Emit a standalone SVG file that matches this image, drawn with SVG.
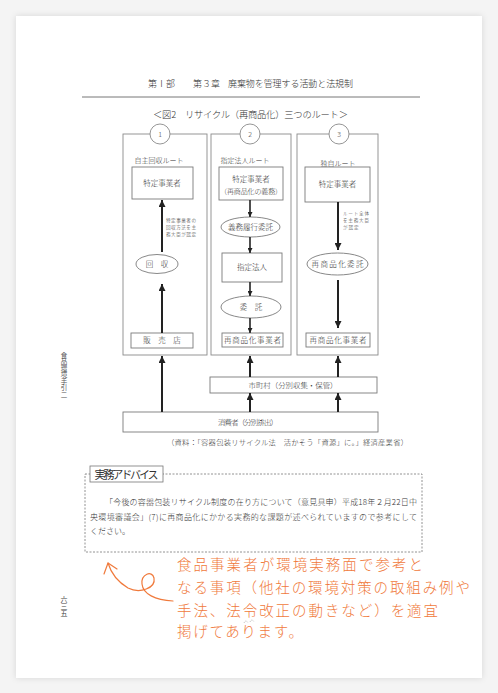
<svg xmlns="http://www.w3.org/2000/svg" width="498" height="693" viewBox="0 0 498 693">
<style>
.t{font-family:"Noto Sans CJK JP","Liberation Sans",sans-serif;fill:#333;font-weight:300}
.c{text-anchor:middle}
.fr{fill:none;stroke:#8a8a8a;stroke-width:0.9}
.bx{fill:#fff;stroke:#7a7a7a;stroke-width:0.9}
.ar{stroke:#222;stroke-width:2;fill:none;marker-end:url(#ah)}
.ar2{stroke:#222;stroke-width:1.6;fill:none;marker-end:url(#ah2)}
.hw{font-family:"Noto Sans CJK JP","Liberation Sans",sans-serif;fill:#f07a3c;font-weight:300;font-size:14.5px}
</style>
<defs>
<filter id="sh" x="-5%" y="-5%" width="110%" height="110%"><feDropShadow dx="0" dy="0" stdDeviation="3" flood-color="#000" flood-opacity="0.12"/></filter>
<marker id="ah" viewBox="0 0 10 10" refX="10" refY="5" markerWidth="9" markerHeight="7" markerUnits="userSpaceOnUse" orient="auto"><path d="M0,0L10,5L0,10z" fill="#222"/></marker>
<marker id="ah2" viewBox="0 0 10 10" refX="10" refY="5" markerWidth="6" markerHeight="5" markerUnits="userSpaceOnUse" orient="auto"><path d="M0,0L10,5L0,10z" fill="#222"/></marker>
</defs>
<rect width="498" height="693" fill="#f4f4f4"/>
<rect x="16" y="16" width="466" height="662" fill="#fff" filter="url(#sh)"/>

<g id="header">
<text class="t" x="148" y="87" font-size="9" font-weight="700">第Ⅰ部</text>
<text class="t" x="193" y="87" font-size="9" font-weight="700">第３章</text>
<text class="t" x="228" y="87" font-size="9" textLength="125">廃棄物を管理する活動と法規制</text>
<line x1="82" y1="97" x2="420" y2="97" stroke="#777" stroke-width="1"/>
<text class="t" x="153" y="117.5" font-size="9.3" textLength="195">＜図2　リサイクル（再商品化）三つのルート＞</text>
</g>

<g id="col1">
<rect class="fr" x="123" y="134" width="84" height="221"/>
<circle cx="160" cy="134" r="10" fill="#fff" stroke="#8a8a8a" stroke-width="0.9"/>
<text class="t c" x="160" y="137" font-size="7">1</text>
<text class="t c" x="159" y="163" font-size="7">自主回収ルート</text>
</g>
<g id="col2">
<rect class="fr" x="211" y="134" width="80" height="221"/>
<circle cx="250" cy="134" r="10" fill="#fff" stroke="#8a8a8a" stroke-width="0.9"/>
<text class="t c" x="250" y="137" font-size="7">2</text>
<text class="t c" x="245" y="163" font-size="7">指定法人ルート</text>
</g>
<g id="col3">
<rect class="fr" x="297" y="134" width="81" height="221"/>
<circle cx="339" cy="134" r="10" fill="#fff" stroke="#8a8a8a" stroke-width="0.9"/>
<text class="t c" x="339" y="137" font-size="7">3</text>
<text class="t c" x="338" y="166" font-size="7">独自ルート</text>
</g>

<g id="n1_jigyosha"><rect class="bx" x="132" y="167" width="61" height="32"/><text class="t c" x="162" y="186" font-size="7.5">特定事業者</text></g>
<g id="n1_note"><text class="t" x="166" y="222" font-size="4.6" textLength="30">特定事業者の</text><text class="t" x="166" y="229" font-size="4.6" textLength="30">回収方法を主</text><text class="t" x="166" y="236" font-size="4.6" textLength="30">務大臣が認定</text></g>
<g id="n1_kaishu"><ellipse class="bx" cx="157" cy="264" rx="21" ry="9.5"/><text class="t c" x="157" y="267" font-size="7.5">回　収</text></g>
<g id="n1_hanbai"><rect class="bx" x="131" y="333" width="62" height="15"/><text class="t c" x="162" y="343" font-size="7.5">販　売　店</text></g>

<g id="n2_jigyosha"><rect class="bx" x="219" y="167" width="64" height="33"/><text class="t c" x="251" y="182" font-size="7.5">特定事業者</text><text class="t c" x="251" y="194" font-size="7" textLength="62">（再商品化の義務）</text></g>
<g id="n2_itaku1"><ellipse class="bx" cx="250.5" cy="227" rx="29.5" ry="10"/><text class="t c" x="250.5" y="230" font-size="7.5">義務履行委託</text></g>
<g id="n2_houjin"><rect class="bx" x="222" y="253" width="60" height="29"/><text class="t c" x="252" y="270" font-size="7.5">指定法人</text></g>
<g id="n2_itaku2"><ellipse class="bx" cx="251" cy="307" rx="30" ry="11"/><text class="t c" x="251" y="310" font-size="7.5">委　託</text></g>
<g id="n2_saisho"><rect class="bx" x="222" y="333" width="61" height="14"/><text class="t c" x="252.5" y="343" font-size="7.5" textLength="57">再商品化事業者</text></g>

<g id="n3_jigyosha"><rect class="bx" x="305" y="167" width="65" height="35"/><text class="t c" x="337.5" y="187" font-size="7.5">特定事業者</text></g>
<g id="n3_note"><text class="t" x="343" y="215" font-size="4.6" textLength="26">ルート全体</text><text class="t" x="343" y="222" font-size="4.6" textLength="26">を主務大臣</text><text class="t" x="343" y="229" font-size="4.6" textLength="15.6">が認定</text></g>
<g id="n3_itaku"><ellipse class="bx" cx="337.5" cy="264" rx="30.5" ry="11"/><text class="t c" x="337.5" y="267" font-size="7.5" textLength="52">再商品化委託</text></g>
<g id="n3_saisho"><rect class="bx" x="306" y="333" width="64" height="14"/><text class="t c" x="338" y="343" font-size="7.5" textLength="57">再商品化事業者</text></g>

<g id="n_shichoson"><rect class="bx" x="210" y="377" width="167" height="16"/><text class="t c" x="293" y="388" font-size="7.4" textLength="89">市町村（分別収集・保管）</text></g>
<g id="n_shohisha"><rect class="bx" x="123" y="412" width="255" height="20"/><text class="t c" x="248" y="425" font-size="7.4" textLength="60">消費者（分別排出）</text></g>
<text class="t" x="167" y="445" font-size="7.3" textLength="241">（資料：「容器包装リサイクル法　活かそう「資源」に。」経済産業省）</text>

<g id="connectors">
<line class="ar" x1="162" y1="252" x2="162" y2="200"/>
<line class="ar" x1="162" y1="333" x2="162" y2="284"/>
<line class="ar2" x1="250" y1="200" x2="250" y2="217"/>
<line class="ar2" x1="250" y1="237" x2="250" y2="253"/>
<line class="ar2" x1="250" y1="282" x2="250" y2="296"/>
<line class="ar2" x1="250" y1="318" x2="250" y2="333"/>
<line class="ar" x1="338" y1="202" x2="338" y2="250"/>
<line class="ar" x1="338" y1="280" x2="338" y2="328"/>
<line class="ar" x1="162" y1="412" x2="162" y2="356"/>
<line class="ar" x1="250" y1="377" x2="250" y2="356"/>
<line class="ar" x1="338" y1="377" x2="338" y2="356"/>
<line class="ar" x1="250" y1="412" x2="250" y2="393"/>
<line class="ar" x1="338" y1="412" x2="338" y2="393"/>
</g>

<g id="advice">
<rect x="85" y="474" width="337" height="78" fill="none" stroke="#777" stroke-width="0.8" stroke-dasharray="2,1.5"/>
<rect x="90" y="466" width="73" height="16" fill="#fff" stroke="#777" stroke-width="0.8"/>
<text x="126.5" y="478.5" font-family="'Noto Sans CJK JP',sans-serif" font-size="11" fill="#333" text-anchor="middle" textLength="64">実務アドバイス</text>
<text class="t" x="105" y="505" font-size="8" textLength="312">「今後の容器包装リサイクル制度の在り方について（意見具申）平成18年２月22日中</text>
<text class="t" x="90" y="520" font-size="8" textLength="327">央環境審議会」(7)に再商品化にかかる実務的な課題が述べられていますので参考にして</text>
<text class="t" x="90" y="534" font-size="8">ください。</text>
</g>

<g id="memo">
<text class="hw" x="177" y="570" textLength="246">食品事業者が環境実務面で参考と</text>
<text class="hw" x="177" y="593" textLength="293">なる事項（他社の環境対策の取組み例や</text>
<text class="hw" x="177" y="616" textLength="261">手法、法令改正の動きなど）を適宜</text>
<text class="hw" x="177" y="637" textLength="126">掲げてあります。</text>
<path d="M244,623 q2,-4 4,0 M250,622 q2,-4 4,0" fill="none" stroke="#999" stroke-width="0.6" stroke-dasharray="1,0.8"/>
<path d="M173,601 C155,600 143,594 142,584 C141,574 152,570 154,578 C156,588 140,594 128,588 C118,582 111,573 108,563" fill="none" stroke="#f07a3c" stroke-width="1.2" stroke-linecap="round"/>
<path d="M104,574 L108,563 L117,569" fill="none" stroke="#f07a3c" stroke-width="1.2" stroke-linecap="round" stroke-linejoin="round"/>
</g>

<g id="side">
<text x="64" y="352" font-family="'Noto Sans CJK JP',sans-serif" font-size="6.5" fill="#555" writing-mode="tb" glyph-orientation-vertical="0">食品環境手引二</text>
<text x="64" y="596" font-family="'Noto Sans CJK JP',sans-serif" font-size="7" fill="#444" writing-mode="tb" glyph-orientation-vertical="0">六三五</text>
</g>
</svg>
